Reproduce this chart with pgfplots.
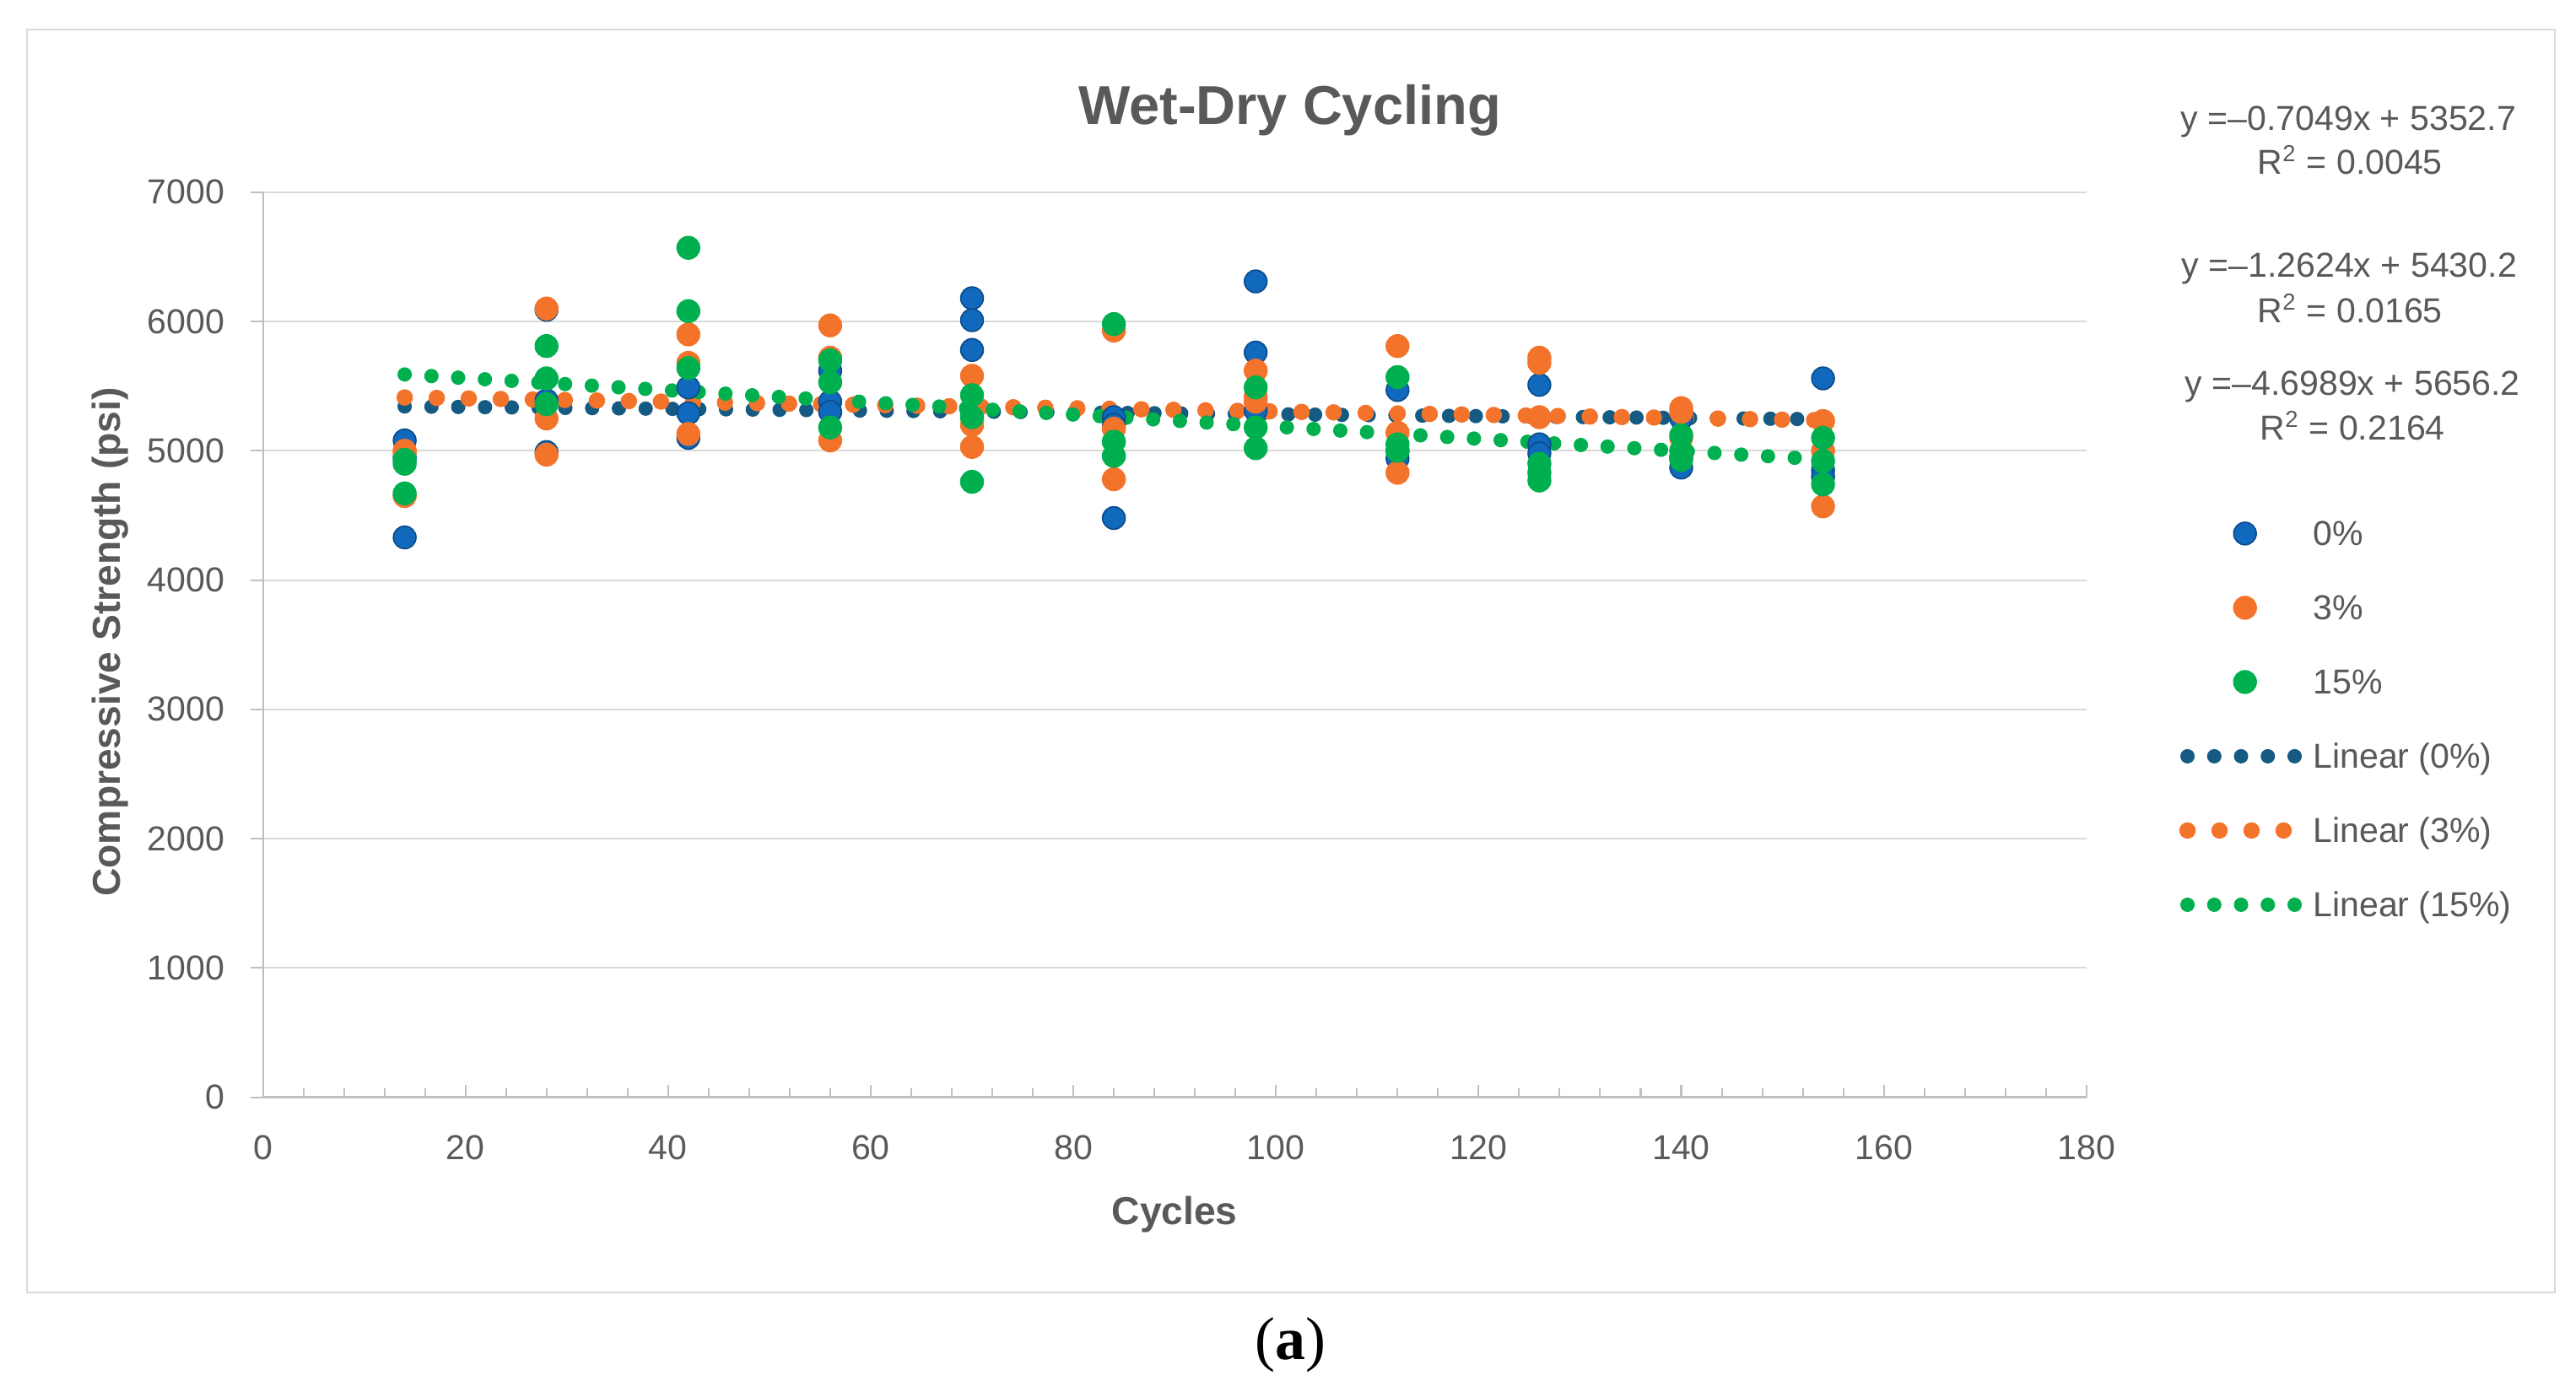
\documentclass[border=0pt]{standalone}
\usepackage{fontspec}
\setmainfont{Liberation Sans}
\newfontfamily\capfont{Liberation Serif}
\usepackage{pgfplots}
\pgfplotsset{compat=1.18}
\definecolor{txt}{HTML}{595959}
\definecolor{axgray}{HTML}{BFBFBF}
\definecolor{gridgray}{HTML}{D9D9D9}
\definecolor{blueM}{HTML}{1169BE}
\definecolor{blueE}{HTML}{0B4C8C}
\definecolor{blueT}{HTML}{145A82}
\definecolor{orangeM}{HTML}{F4732B}
\definecolor{greenM}{HTML}{00B04F}

\begin{document}
\begin{tikzpicture}
\path[fill=white] (-3.2,-3.58) rectangle (28.16,13.36);
\draw[gridgray, line width=0.6pt] (-2.874,-2.374) rectangle (27.9,13.0);
\begin{axis}[
  at={(0,0)}, anchor=south west,
  width=22.2cm, height=11.02cm, scale only axis,
  xmin=0, xmax=180, ymin=0, ymax=7000,
  xtick distance=20, ytick distance=1000,
  minor x tick num=4,
  axis x line=bottom, axis y line=left,
  x axis line style={-, axgray, line width=0.8pt},
  y axis line style={-, axgray, line width=0.6pt},
  tick align=inside,
  major tick length=0.154cm, minor tick length=0.11cm,
  tick style={axgray, line width=0.6pt},
  y tick style={xshift=-0.154cm},
  ymajorgrids, major grid style={gridgray, line width=0.6pt},
  /pgf/number format/assume math mode=true,
  /pgf/number format/1000 sep={},
  scaled y ticks=false,
  xticklabel style={font=\fontsize{12}{14}\selectfont, text=txt, inner sep=0pt, yshift=-0.46cm},
  yticklabel style={font=\fontsize{12}{14}\selectfont, text=txt, inner sep=0pt, xshift=-0.46cm},
  xlabel={Cycles}, ylabel={Compressive Strength (psi)},
  xlabel style={font=\fontsize{13.5}{16}\selectfont\bfseries, text=txt, at={(axis description cs:0.5,-0.1408)}, anchor=base},
  ylabel style={font=\fontsize{13.5}{16}\selectfont\bfseries, text=txt, at={(axis description cs:-0.078,0.503)}, anchor=base},
  legend style={at={(axis description cs:1.0509,0.6412)}, anchor=north west,
    draw=none, fill=none, inner sep=0pt, outer sep=0pt,
    row sep=0.5cm, column sep=0.03cm,
    font=\fontsize{12}{14}\selectfont, text=txt,
    nodes={inner sep=0pt, text height=0.35cm, text depth=0.054cm}},
  legend cell align=left,
  legend image code/.code={\draw[mark repeat=2, mark phase=2, #1] plot coordinates {(0cm,0cm) (0.7cm,0cm) (1.4cm,0cm)};},
]
% 0%
\addplot[only marks, mark=*, color=blueE, fill=blueM, mark size=3.9pt, line width=0.5pt] coordinates {
  (14,5080) (14,4330) (14,4950)
  (28,6090) (28,5390) (28,4990)
  (42,5490) (42,5290) (42,5100)
  (56,5620) (56,5380) (56,5300)
  (70,6180) (70,6010) (70,5780)
  (84,5260) (84,4480) (84,5200)
  (98,6310) (98,5760) (98,5310)
  (112,5470) (112,4940) (112,5000)
  (126,5510) (126,5050) (126,4980)
  (140,5250) (140,4870) (140,4950)
  (154,5560) (154,4850) (154,4800)
};
\addlegendentry{0\%}
% 3%
\addplot[only marks, mark=*, color=orangeM, fill=orangeM, mark size=3.9pt, line width=0.5pt] coordinates {
  (14,5000) (14,4650) (14,4990)
  (28,6100) (28,5250) (28,4970)
  (42,5900) (42,5680) (42,5130)
  (56,5970) (56,5720) (56,5080)
  (70,5580) (70,5200) (70,5030)
  (84,5930) (84,5170) (84,4780)
  (98,5620) (98,5420) (98,5380)
  (112,5810) (112,5140) (112,4830)
  (126,5720) (126,5680) (126,5260)
  (140,5330) (140,5300) (140,5100)
  (154,5230) (154,5000) (154,4570)
};
\addlegendentry{3\%}
% 15%
\addplot[only marks, mark=*, color=greenM, fill=greenM, mark size=3.9pt, line width=0.5pt] coordinates {
  (14,4930) (14,4670) (14,4900)
  (28,5810) (28,5560) (28,5360)
  (42,6570) (42,6080) (42,5640)
  (56,5700) (56,5530) (56,5180)
  (70,5430) (70,5260) (70,4760)
  (84,5980) (84,5070) (84,4960)
  (98,5490) (98,5180) (98,5020)
  (112,5570) (112,5050) (112,5000)
  (126,4900) (126,4830) (126,4770)
  (140,5120) (140,5000) (140,4930)
  (154,5100) (154,4920) (154,4740)
};
\addlegendentry{15\%}
% trend lines (end points of the fitted lines)
\addplot[blueT, line width=0.175cm, line cap=round, dash pattern=on 0pt off 0.326cm] coordinates {(14,5342.8) (154,5244.2)};
\addlegendentry{Linear (0\%)}
\addplot[orangeM, line width=0.2cm, line cap=round, dash pattern=on 0pt off 0.39cm] coordinates {(14,5412.5) (154,5235.8)};
\addlegendentry{Linear (3\%)}
\addplot[greenM, line width=0.175cm, line cap=round, dash pattern=on 0pt off 0.326cm] coordinates {(14,5590.4) (154,4932.6)};
\addlegendentry{Linear (15\%)}
\end{axis}
\node[anchor=base, font=\fontsize{19}{22}\selectfont\bfseries, text=txt] at (12.5,11.844) {Wet-Dry Cycling};
\begin{scope}[every node/.style={anchor=base, font=\fontsize{12}{14}\selectfont, text=txt}]
\node at (25.39,11.77) {y =–0.7049x + 5352.7};
\node at (25.41,11.24) {R\textsuperscript{2} = 0.0045};
\node at (25.40,9.99) {y =–1.2624x + 5430.2};
\node at (25.41,9.428) {R\textsuperscript{2} = 0.0165};
\node at (25.44,8.552) {y =–4.6989x + 5656.2};
\node at (25.44,8.002) {R\textsuperscript{2} = 0.2164};
\end{scope}
\node[anchor=base, font={\capfont\fontsize{21}{24}\selectfont}] at (12.506,-3.194) {(\textbf{a})};
\end{tikzpicture}
\end{document}
